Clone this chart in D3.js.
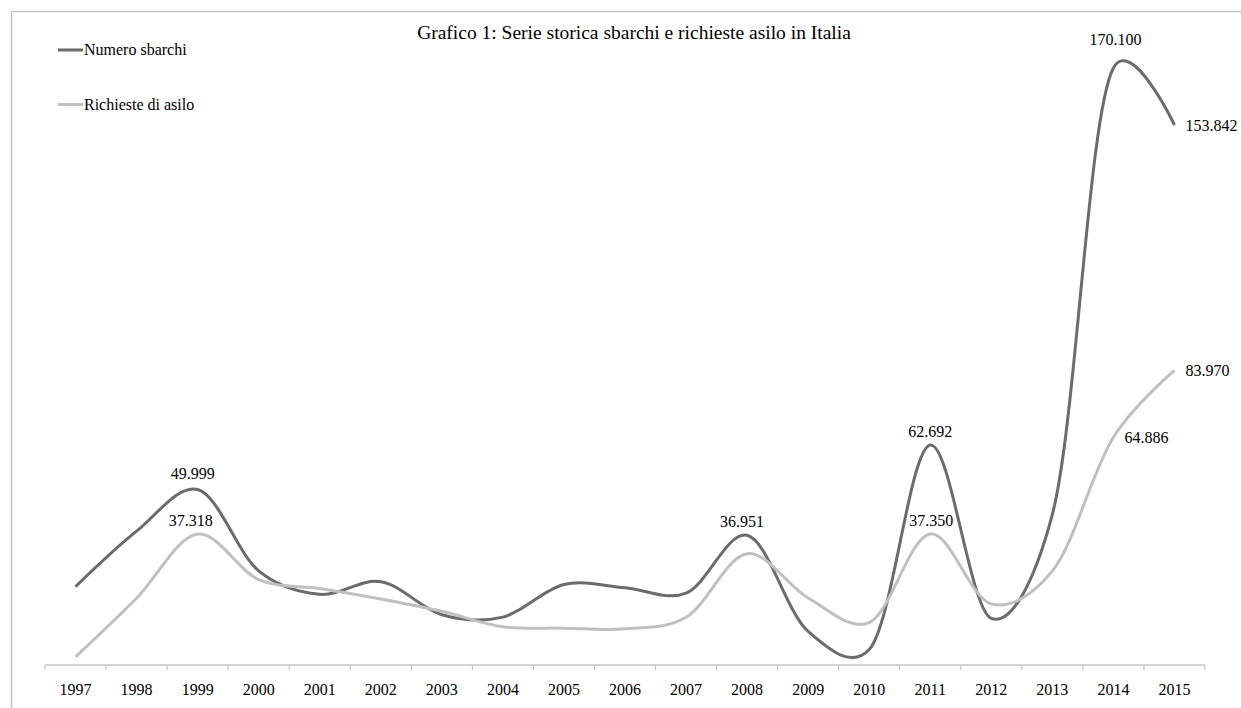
<!DOCTYPE html>
<html>
<head>
<meta charset="utf-8">
<script src="https://cdn.jsdelivr.net/npm/d3@7"></script>
<style>
  html, body { margin: 0; padding: 0; background: #fff; }
</style>
</head>
<body>
<svg id="chart" width="1241" height="708" font-family="'Liberation Serif', 'DejaVu Serif', serif"></svg>
<script>
const years = ["1997","1998","1999","2000","2001","2002","2003","2004","2005","2006","2007","2008","2009","2010","2011","2012","2013","2014","2015"];
const sbarchi = [22343, 38134, 49999, 26817, 20143, 23719, 14331, 13635, 22939, 22016, 20455, 36951, 9573, 4406, 62692, 13267, 42925, 170100, 153842];
const richieste = [2300, 19000, 37318, 24300, 21800, 18800, 15300, 10900, 10500, 10300, 13600, 31700, 19100, 12100, 37350, 17400, 26800, 64886, 83970];
const seriesNames = ["Numero sbarchi", "Richieste di asilo"];
const title = "Grafico 1: Serie storica sbarchi e richieste asilo in Italia";
// labelled points: [series index, year index, placement]
const labelPoints = [[0, 2, "above"], [0, 11, "above"], [0, 14, "above"], [0, 17, "above"], [0, 18, "right"],
                     [1, 2, "above"], [1, 14, "above"], [1, 17, "right"], [1, 18, "right"]];

const FONT = "'Liberation Serif', 'DejaVu Serif', serif";
const svg = d3.select("#chart");
const colors = ["#6b6b6b", "#c0c0c0"];
const allSeries = [sbarchi, richieste];

// outer frame (cropped on right/bottom)
svg.append("path").attr("d", "M11.5,720 V11.5 H1250").attr("fill", "none")
  .attr("stroke", "#c4c4c4").attr("stroke-width", 1.5);

const x = d3.scaleBand().domain(years).range([45, 1205]).padding(0);
const y = d3.scaleLinear().domain([0, 180000]).range([665, 33.2]);

// axis
const axisG = svg.append("g").attr("transform", "translate(0,665)")
  .call(d3.axisBottom(x).tickSize(0).tickPadding(0));
axisG.select(".domain").remove();
axisG.selectAll(".tick").remove();
axisG.append("line").attr("x1", 45).attr("x2", 1205).attr("y1", 0).attr("y2", 0)
  .attr("stroke", "#c4c4c4").attr("stroke-width", 1.5);
const tickPos = years.map(d => x(d)).concat([x.range()[1]]);
axisG.selectAll("line.tk").data(tickPos).join("line").attr("class", "tk")
  .attr("x1", d => d).attr("x2", d => d).attr("y1", 0).attr("y2", 5)
  .attr("stroke", "#c4c4c4").attr("stroke-width", 1.2);
axisG.selectAll("text.yr").data(years).join("text").attr("class", "yr")
  .attr("x", d => x(d) + x.bandwidth() / 2).attr("y", 30)
  .attr("text-anchor", "middle").attr("font-family", FONT).attr("font-size", 16).attr("fill", "#000").text(d => d);

const cx = i => x(years[i]) + x.bandwidth() / 2;
const line = d3.line().x((d, i) => cx(i)).y(d => y(d)).curve(d3.curveCatmullRom.alpha(0.2));

allSeries.forEach((s, k) => {
  svg.append("path").datum(s).attr("d", line).attr("fill", "none")
    .attr("stroke", colors[k]).attr("stroke-width", 3).attr("stroke-linejoin", "round");
});

// data labels
const fmt = v => d3.format(",")(v).replace(/,/g, ".");
const aboveOffsets = { "0-2": [-5, -10.5], "0-11": [-5, -8], "0-14": [0, -8], "0-17": [2, -23],
                       "1-2": [-7, -8], "1-14": [1, -8] };
labelPoints.forEach(([k, i, pos]) => {
  const v = allSeries[k][i];
  const px = cx(i), py = y(v);
  const t = svg.append("text").attr("font-family", FONT).attr("font-size", 16).attr("fill", "#000").text(fmt(v));
  if (pos === "above") {
    const [dx, dy] = aboveOffsets[k + "-" + i];
    t.attr("x", px + dx).attr("y", py + dy).attr("text-anchor", "middle");
  } else {
    t.attr("x", px + 11).attr("y", py + 6).attr("text-anchor", "start");
  }
});

// title
svg.append("text").attr("x", 634).attr("y", 39).attr("text-anchor", "middle")
  .attr("font-family", FONT).attr("font-size", 19.5).attr("fill", "#000").text(title);

// legend
seriesNames.forEach((n, k) => {
  const ly = 50 + k * 54.5;
  svg.append("line").attr("x1", 58).attr("x2", 83).attr("y1", ly).attr("y2", ly)
    .attr("stroke", colors[k]).attr("stroke-width", 3);
  svg.append("text").attr("x", 84).attr("y", ly + 5).attr("font-family", FONT)
    .attr("font-size", 16).attr("fill", "#000").text(n);
});
</script>
</body>
</html>
